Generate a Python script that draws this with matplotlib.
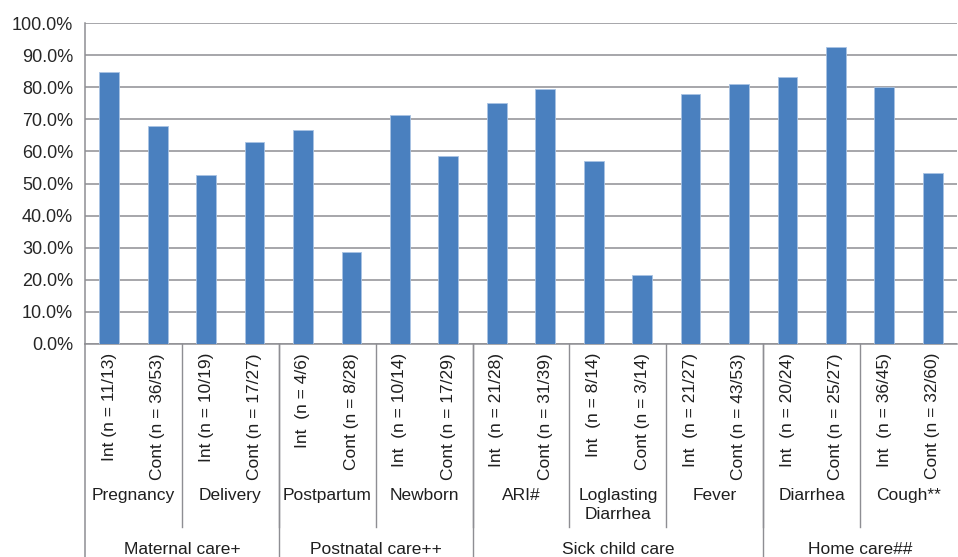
import matplotlib
matplotlib.use("Agg")
import matplotlib.pyplot as plt
import matplotlib.transforms as mtransforms
from matplotlib.lines import Line2D
from matplotlib.ticker import FuncFormatter

plt.rcParams["font.family"] = ["Liberation Sans", "DejaVu Sans"]

# Bar labels (rotated), values as percentages
bar_labels = [
    "Int (n = 11/13)", "Cont (n = 36/53)",
    "Int (n = 10/19)", "Cont (n = 17/27)",
    "Int  (n = 4/6)", "Cont (n = 8/28)",
    "Int  (n = 10/14)", "Cont (n = 17/29)",
    "Int  (n = 21/28)", "Cont (n = 31/39)",
    "Int  (n = 8/14)", "Cont (n = 3/14)",
    "Int  (n = 21/27)", "Cont (n = 43/53)",
    "Int  (n = 20/24)", "Cont (n = 25/27)",
    "Int  (n = 36/45)", "Cont (n = 32/60)",
]
values = [84.6, 67.9, 52.6, 63.0, 66.7, 28.6, 71.4, 58.6, 75.0,
          79.5, 57.1, 21.4, 77.8, 81.1, 83.3, 92.6, 80.0, 53.3]

subgroups = ["Pregnancy", "Delivery", "Postpartum", "Newborn", "ARI#",
             "Loglasting\nDiarrhea", "Fever", "Diarrhea", "Cough**"]
subgroup_sizes = [2, 2, 2, 2, 2, 2, 2, 2, 2]

groups = ["Maternal care+", "Postnatal care++", "Sick child care", "Home care##"]
group_sizes = [2, 2, 3, 2]  # number of subgroups per group

W, H = 958, 557
fig = plt.figure(figsize=(W / 100, H / 100), dpi=100)
left, right, top, bottom = 85, 957, 23, 344
ax = fig.add_axes([left / W, 1 - bottom / H, (right - left) / W, (bottom - top) / H])

n = len(values)
xs = [i + 0.5 for i in range(n)]
ax.bar(xs, values, width=0.41, color="#4a80bf", edgecolor="#a9c3e3",
       linewidth=0.6, zorder=3)

ax.set_xlim(0, n)
ax.set_ylim(0, 100)
ax.set_yticks(range(0, 101, 10))
ax.yaxis.set_major_formatter(FuncFormatter(lambda v, p: f"{v:.1f}%"))
ax.tick_params(axis="y", length=0, pad=8.5, labelsize=13, labelcolor="#262626")
ax.set_xticks([])
ax.grid(axis="y", color="#8e8e93", linewidth=1.1, zorder=0)
for s in ["top", "right", "bottom"]:
    ax.spines[s].set_visible(False)
ax.spines["left"].set_color("#8e8e93")
ax.spines["left"].set_linewidth(1.1)

grid_color = "#8e8e93"
text_color = "#1f1f1f"
tr = mtransforms.blended_transform_factory(ax.transData, fig.transFigure)


def fy(py):
    return 1 - py / H


# baseline and left spine extension
ax.add_line(Line2D([0, n], [fy(bottom)] * 2, transform=tr, color=grid_color,
                   lw=1.1, clip_on=False))
ax.add_line(Line2D([0, 0], [fy(bottom), 0], transform=tr, color=grid_color,
                   lw=1.1, clip_on=False))

# rotated bar labels
for x, lab in zip(xs, bar_labels):
    ax.text(x, fy(353), lab, transform=tr, rotation=90, ha="center", va="top",
            fontsize=12.5, color=text_color)

# subgroup labels and dividers
pos = 0
for name, size in zip(subgroups, subgroup_sizes):
    ax.text(pos + size / 2, fy(488), name, transform=tr, ha="center", va="top",
            fontsize=12.5, color=text_color, linespacing=1.3)
    pos += size
    if pos < n:
        ax.add_line(Line2D([pos, pos], [fy(bottom), fy(527)], transform=tr,
                           color=grid_color, lw=1.0, clip_on=False))

# group labels and dividers
pos = 0
sub_idx = 0
for name, gsize in zip(groups, group_sizes):
    width = sum(subgroup_sizes[sub_idx:sub_idx + gsize])
    sub_idx += gsize
    ax.text(pos + width / 2, fy(549), name, transform=tr, ha="center",
            va="center", fontsize=12.5, color=text_color)
    pos += width
    if pos < n:
        ax.add_line(Line2D([pos, pos], [fy(bottom), 0], transform=tr,
                           color=grid_color, lw=1.0, clip_on=False))

fig.savefig("out.png", dpi=100)
